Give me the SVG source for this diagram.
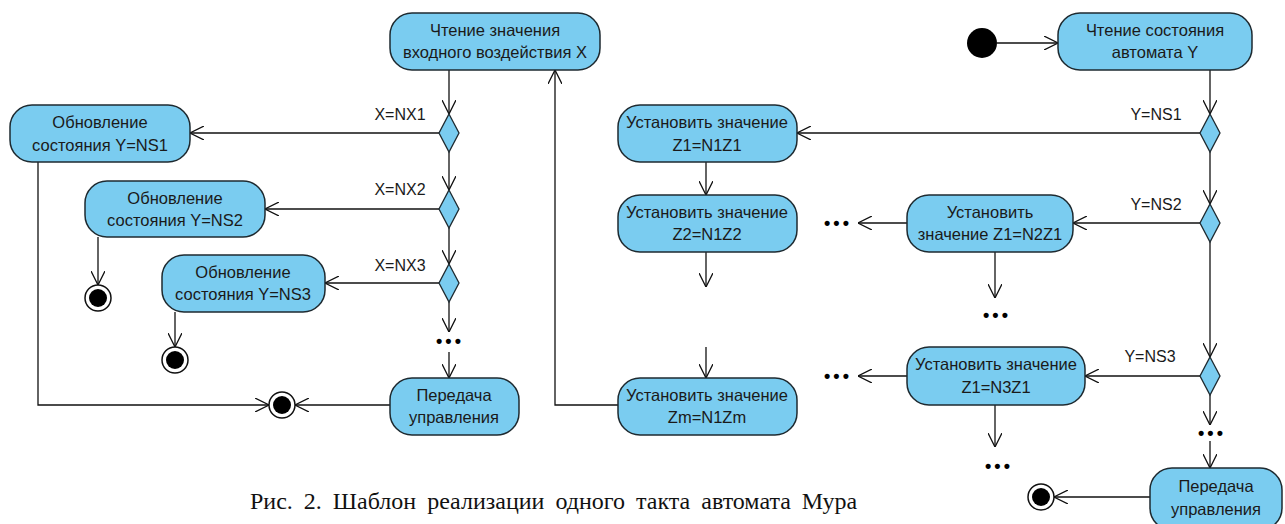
<svg xmlns="http://www.w3.org/2000/svg" width="1285" height="524" viewBox="0 0 1285 524">
<style>
.n{fill:#7ACCF0;stroke:#1e2a30;stroke-width:1.5}
.d{fill:#7ACCF0;stroke:#1e2a30;stroke-width:1.3}
.t{font-family:"Liberation Sans",Arial,sans-serif;font-size:16.5px;fill:#1a1a1a;text-anchor:middle}
.l{font-family:"Liberation Sans",Arial,sans-serif;font-size:16px;fill:#1a1a1a;text-anchor:middle}
.e{fill:none;stroke:#111;stroke-width:1.3}
.a{marker-end:url(#arr)}
.dots{font-family:"Liberation Sans",Arial,sans-serif;font-size:18px;font-weight:bold;fill:#000;text-anchor:middle;letter-spacing:3px}
.cap{font-family:"Liberation Serif","Times New Roman",serif;font-size:24px;fill:#111;word-spacing:5px}
</style>
<defs>
<marker id="arr" viewBox="0 0 14 14" refX="14" refY="7" markerWidth="14" markerHeight="14" markerUnits="userSpaceOnUse" orient="auto">
<path d="M0,0 L14,7 L0,14" fill="none" stroke="#111" stroke-width="1.3"/>
</marker>
<g id="fin"><circle r="13" fill="#fff" stroke="#111" stroke-width="1.5"/><circle r="9" fill="#000"/></g>
</defs>
<rect width="1285" height="524" fill="#fff"/>

<g id="connectors">
<path class="e a" d="M449,70 V114"/>
<path class="e a" d="M449,152 V190"/>
<path class="e a" d="M449,228 V264"/>
<path class="e a" d="M449,302 V332"/>
<path class="e a" d="M449,352 V378"/>
<path class="e a" d="M439,133 H190"/>
<path class="e a" d="M439,209 H265"/>
<path class="e a" d="M439,283 H325"/>
<path class="e a" d="M390,405 H295"/>
<path class="e a" d="M38,162 V405 H269"/>
<path class="e a" d="M98,237 V285"/>
<path class="e a" d="M175,312 V347"/>
<path class="e a" d="M618,405 H555 V70"/>
<path class="e a" d="M997,43 H1058"/>
<path class="e a" d="M1210,70 V114"/>
<path class="e a" d="M1210,152 V204"/>
<path class="e a" d="M1210,242 V357"/>
<path class="e a" d="M1210,395 V425"/>
<path class="e a" d="M1210,441 V468"/>
<path class="e a" d="M1200,133 H797"/>
<path class="e a" d="M1200,223 H1073"/>
<path class="e a" d="M1200,376 H1085"/>
<path class="e a" d="M706,162 V195"/>
<path class="e a" d="M706,252 V287"/>
<path class="e a" d="M706,347 V378"/>
<path class="e a" d="M907,223 H858"/>
<path class="e a" d="M995,252 V298"/>
<path class="e a" d="M907,376 H858"/>
<path class="e a" d="M995,405 V447"/>
<path class="e a" d="M1150,497 H1054"/>
</g>

<g id="labels">
<text class="l" x="400" y="120">X=NX1</text>
<text class="l" x="400" y="195">X=NX2</text>
<text class="l" x="400" y="271">X=NX3</text>
<text class="l" x="1156" y="120">Y=NS1</text>
<text class="l" x="1156" y="210">Y=NS2</text>
<text class="l" x="1150" y="362">Y=NS3</text>
<text class="dots" x="450" y="347">•••</text>
<text class="dots" x="838" y="229">•••</text>
<text class="dots" x="838" y="382">•••</text>
<text class="dots" x="997" y="321">•••</text>
<text class="dots" x="999" y="472">•••</text>
<text class="dots" x="1212" y="439">•••</text>
</g>

<g id="nA"><rect class="n" x="390" y="13" width="210" height="57" rx="22"/><text class="t" x="495" y="36">Чтение значения</text><text class="t" x="495" y="58">входного воздействия X</text></g>
<g id="nNS1"><rect class="n" x="10" y="105" width="180" height="57" rx="22"/><text class="t" x="100" y="128">Обновление</text><text class="t" x="100" y="151">состояния Y=NS1</text></g>
<g id="nNS2"><rect class="n" x="85" y="181" width="180" height="56" rx="22"/><text class="t" x="175" y="204">Обновление</text><text class="t" x="175" y="226">состояния Y=NS2</text></g>
<g id="nNS3"><rect class="n" x="162" y="255" width="163" height="57" rx="22"/><text class="t" x="243" y="278">Обновление</text><text class="t" x="243" y="300">состояния Y=NS3</text></g>
<g id="nPer1"><rect class="n" x="390" y="378" width="129" height="57" rx="22"/><text class="t" x="454" y="401">Передача</text><text class="t" x="454" y="423">управления</text></g>
<g id="d1"><path class="d" d="M449,114 L459,133 L449,152 L439,133 Z"/></g>
<g id="d2"><path class="d" d="M449,190 L459,209 L449,228 L439,209 Z"/></g>
<g id="d3"><path class="d" d="M449,264 L459,283 L449,302 L439,283 Z"/></g>
<g id="f1"><use href="#fin" x="98" y="298"/></g>
<g id="f2"><use href="#fin" x="175" y="360"/></g>
<g id="f3"><use href="#fin" x="282" y="405"/></g>

<g id="init"><circle cx="982" cy="43" r="15" fill="#000"/></g>
<g id="nB"><rect class="n" x="1058" y="13" width="194" height="57" rx="22"/><text class="t" x="1155" y="36">Чтение состояния</text><text class="t" x="1155" y="58">автомата Y</text></g>
<g id="nZ1"><rect class="n" x="618" y="105" width="179" height="57" rx="22"/><text class="t" x="707" y="128">Установить значение</text><text class="t" x="707" y="151">Z1=N1Z1</text></g>
<g id="nZ2"><rect class="n" x="618" y="195" width="179" height="57" rx="22"/><text class="t" x="707" y="218">Установить значение</text><text class="t" x="707" y="240">Z2=N1Z2</text></g>
<g id="nZm"><rect class="n" x="618" y="378" width="179" height="57" rx="22"/><text class="t" x="707" y="401">Установить значение</text><text class="t" x="707" y="423">Zm=N1Zm</text></g>
<g id="nN2"><rect class="n" x="907" y="195" width="166" height="57" rx="22"/><text class="t" x="990" y="218">Установить</text><text class="t" x="990" y="240">значение Z1=N2Z1</text></g>
<g id="nN3"><rect class="n" x="907" y="347" width="178" height="58" rx="22"/><text class="t" x="996" y="370">Установить значение</text><text class="t" x="996" y="393">Z1=N3Z1</text></g>
<g id="nPer2"><rect class="n" x="1150" y="468" width="132" height="62" rx="22"/><text class="t" x="1216" y="492">Передача</text><text class="t" x="1216" y="515">управления</text></g>
<g id="d4"><path class="d" d="M1210,114 L1220,133 L1210,152 L1200,133 Z"/></g>
<g id="d5"><path class="d" d="M1210,204 L1220,223 L1210,242 L1200,223 Z"/></g>
<g id="d6"><path class="d" d="M1210,357 L1220,376 L1210,395 L1200,376 Z"/></g>
<g id="f4"><use href="#fin" x="1041" y="497"/></g>

<text class="cap" x="250" y="509">Рис. 2. Шаблон реализации одного такта автомата Мура</text>
</svg>
